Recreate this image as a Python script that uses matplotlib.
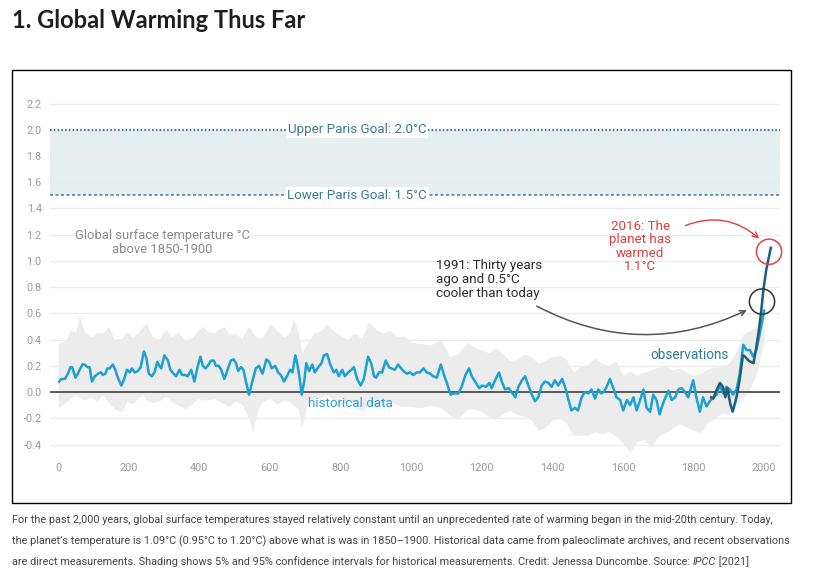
import numpy as np
import matplotlib
matplotlib.use("Agg")
import matplotlib.pyplot as plt
import matplotlib.patches as patches

# reconstruction (paleoclimate)
hist_years = [3, 9, 19, 28, 35, 40, 49, 56, 61, 69, 75, 83, 89, 96, 104, 113, 121, 127, 134, 139,
              146, 155, 162, 169, 179, 186, 195, 203, 209, 217, 226, 234, 243, 250, 257, 265, 273, 281, 287, 292,
              301, 311, 318, 327, 334, 344, 351, 360, 367, 377, 386, 395, 403, 410, 417, 424, 433, 441, 447, 455,
              462, 471, 480, 489, 497, 504, 510, 518, 525, 532, 541, 551, 560, 569, 579, 590, 598, 605, 615, 623,
              631, 640, 650, 657, 664, 672, 678, 685, 690, 697, 703, 711, 720, 727, 737, 746, 753, 762, 771, 781,
              788, 795, 805, 812, 822, 831, 838, 847, 857, 866, 878, 887, 895, 901, 909, 918, 928, 937, 944, 954,
              963, 978, 988, 997, 1006, 1016, 1025, 1035, 1044, 1054, 1063, 1073, 1084, 1092, 1101, 1112, 1121, 1134, 1143, 1154,
              1164, 1172, 1181, 1193, 1202, 1212, 1222, 1228, 1238, 1249, 1257, 1266, 1276, 1285, 1295, 1304, 1314, 1323, 1332, 1342,
              1351, 1360, 1370, 1379, 1389, 1398, 1407, 1417, 1428, 1437, 1445, 1454, 1464, 1473, 1483, 1492, 1502, 1511, 1521, 1530,
              1538, 1546, 1554, 1563, 1573, 1582, 1592, 1601, 1611, 1620, 1630, 1639, 1649, 1658, 1667, 1677, 1686, 1695, 1704, 1712,
              1719, 1729, 1738, 1748, 1757, 1766, 1776, 1785, 1799, 1808, 1818, 1827, 1837, 1846, 1856, 1865, 1874, 1884, 1893, 1903,
              1912, 1922, 1931, 1941, 1950, 1960, 1969, 1978, 1988, 2000]
hist_vals = [.08, .10, .10, .14, .19, .19, .11, .14, .17, .21, .21, .19, .19, .08, .12, .14, .15, .13, .14, .18,
             .18, .21, .17, .11, .05, .09, .17, .15, .18, .15, .16, .19, .31, .26, .14, .12, .15, .23, .20, .18,
             .28, .24, .17, .14, .12, .17, .13, .13, .12, .17, .08, .19, .27, .20, .18, .20, .24, .24, .20, .20,
             .17, .10, .17, .24, .25, .22, .16, .19, .17, .08, -.02, .09, .18, .20, .14, .25, .23, .18, .20, .15,
             .13, .08, .13, .17, .15, .28, .21, .09, -.02, .08, .22, .16, .21, .15, .19, .22, .28, .29, .21, .15,
             .17, .12, .17, .12, .15, .17, .19, .10, .05, .10, .27, .22, .12, .11, .15, .15, .24, .19, .18, .17,
             .21, .16, .14, .15, .13, .15, .15, .18, .15, .14, .12, .11, .21, .14, .07, -.02, -.01, -.01, .04, .13,
             .18, .12, .08, .03, .05, .04, .07, .03, .09, .15, .08, .02, .03, .00, -.04, .04, .09, .12, .05, -.02,
             -.07, -.04, .05, .08, .07, .04, .09, .05, .10, .03, -.05, -.14, -.12, -.14, -.04, .00, -.01, .02, -.05, .02,
             -.01, .00, .04, .10, .03, -.04, -.06, -.14, -.06, -.10, -.04, -.14, -.06, .02, -.12, -.15, -.02, -.06, -.17, -.10,
             -.05, .01, -.06, -.04, .02, .03, .00, -.04, .09, -.04, -.15, -.04, -.11, -.07, -.04, -.02, .05, -.01, .04, .02,
             -.02, .02, .14, .36, .32, .32, .27, .32, .45, .62]

# 5% / 95% shading
band_years = [0, 20, 35, 50, 60, 75, 95, 110, 125, 143, 160, 180, 195, 210, 225, 240, 250, 265, 285, 305,
              320, 340, 360, 380, 395, 410, 425, 440, 455, 470, 485, 500, 520, 540, 550, 565, 580, 600, 620, 640,
              655, 667, 680, 690, 705, 725, 745, 760, 780, 800, 820, 840, 860, 880, 900, 920, 940, 960, 980, 1000,
              1030, 1055, 1085, 1110, 1130, 1160, 1180, 1200, 1220, 1240, 1260, 1280, 1300, 1320, 1340, 1360, 1380, 1400, 1420, 1440,
              1460, 1480, 1500, 1520, 1540, 1560, 1580, 1600, 1620, 1640, 1660, 1680, 1700, 1720, 1740, 1760, 1780, 1800, 1820, 1840,
              1860, 1880, 1900, 1920, 1940, 1960, 1980, 2000]
band_hi = [.37, .39, .47, .46, .58, .46, .42, .46, .45, .50, .40, .41, .46, .42, .45, .50, .53, .43, .40, .48,
           .42, .46, .39, .42, .47, .50, .46, .45, .48, .50, .44, .45, .41, .50, .46, .41, .42, .52, .47, .42,
           .45, .56, .46, .30, .37, .45, .47, .52, .47, .43, .40, .45, .41, .54, .48, .45, .47, .42, .43, .38,
           .37, .36, .40, .27, .29, .38, .34, .32, .30, .34, .29, .24, .25, .29, .27, .22, .24, .27, .28, .25,
           .15, .20, .21, .26, .22, .20, .24, .13, .16, .13, .15, .17, .19, .20, .17, .18, .15, .13, .14, .18,
           .19, .20, .22, .30, .44, .47, .50, .72]
band_lo = [-.12, -.08, -.05, -.02, -.04, -.06, -.04, -.07, -.02, -.08, -.13, -.15, -.07, -.09, -.05, -.02, -.06, -.08, -.07, -.03,
           -.07, -.10, -.13, -.09, -.05, -.06, -.06, -.05, -.07, -.09, -.11, -.07, -.09, -.20, -.31, -.14, -.07, -.05, -.09, -.06,
           -.07, -.10, -.13, -.27, -.10, -.05, -.04, -.02, -.06, -.10, -.06, -.11, -.15, -.09, -.11, -.09, -.07, -.10, -.11, -.11,
           -.12, -.10, -.12, -.18, -.21, -.13, -.13, -.15, -.19, -.21, -.16, -.14, -.17, -.19, -.21, -.29, -.27, -.21, -.20, -.24,
           -.33, -.33, -.33, -.30, -.32, -.30, -.34, -.39, -.46, -.38, -.36, -.42, -.34, -.31, -.28, -.24, -.27, -.29, -.31, -.24,
           -.20, -.16, -.17, -.10, -.04, .02, .15, .40]

# direct measurements
obs_years = [1850, 1856, 1866, 1875, 1883, 1890, 1896, 1904, 1911, 1918, 1924, 1932, 1940, 1946, 1956, 1962,
             1970, 1976, 1984, 1991, 1998, 2006, 2012, 2019]
obs_vals = [-.04, -.05, .02, .07, .04, -.04, .03, -.09, -.15, -.08, -.01, .12, .28, .27, .24, .23,
            .22, .31, .45, .60, .78, .93, 1.01, 1.10]

paris_low, paris_high = 1.5, 2.0
yticks = [-0.4, -0.2, 0.0, 0.2, 0.4, 0.6, 0.8, 1.0, 1.2, 1.4, 1.6, 1.8, 2.0, 2.2]
xticks = [0, 200, 400, 600, 800, 1000, 1200, 1400, 1600, 1800, 2000]
circle_1991 = (1994, 0.69)
circle_2016 = (2014, 1.07)

caption = ["For the past 2,000 years, global surface temperatures stayed relatively constant until an unprecedented rate of warming began in the mid-20th century. Today,",
           "the planet\u2019s temperature is 1.09\u00b0C (0.95\u00b0C to 1.20\u00b0C) above what is was in 1850\u20131900. Historical data came from paleoclimate archives, and recent observations",
           "are direct measurements. Shading shows 5% and 95% confidence intervals for historical measurements. Credit: Jenessa Duncombe. Source: "]

plt.rcParams['font.family'] = ['Roboto', 'DejaVu Sans']

W, H = 819, 579
fig = plt.figure(figsize=(W / 100, H / 100), dpi=100)
fig.patch.set_facecolor('white')

fig.text(12 / W, 1 - 21 / H, "1. Global Warming Thus Far", fontsize=17, fontweight='bold',
         family=['Lato', 'DejaVu Sans'], color='#1e1e1e', va='center', ha='left')

fig.add_artist(patches.Rectangle((12 / W, 1 - 503 / H), 779 / W, 433 / H, transform=fig.transFigure,
                                 fill=False, ec='black', lw=1))

ax = fig.add_axes([50 / W, 1 - 455 / H, 730 / W, 358 / H])
ax.set_xlim(-23, 2045)
ax.set_ylim(-0.48, 2.25)
for s in ax.spines.values():
    s.set_visible(False)
ax.tick_params(length=0, labelsize=7.8, labelcolor='#9a9a9a')
ax.tick_params(axis='y', pad=6)
ax.tick_params(axis='x', pad=6)
ax.set_yticks(yticks)
ax.set_yticklabels([f"{v:.1f}" if v >= 0 else f"-{abs(v):.1f}" for v in yticks])
ax.set_xticks(xticks)
ax.grid(axis='y', color='#ebebeb', lw=0.9)
ax.set_axisbelow(True)

ax.axhspan(paris_low, paris_high, color='#e6eef0', lw=0, zorder=0.5)
ax.axhline(paris_high, color='#3b7f97', lw=1.6, ls=(0, (0.7, 1.0)), zorder=2)
ax.axhline(paris_low, color='#3b7f97', lw=1.1, ls=(0, (2.0, 1.6)), zorder=2)
for yv, lab in [(paris_high, "Upper Paris Goal: 2.0\u00b0C"), (paris_low, "Lower Paris Goal: 1.5\u00b0C")]:
    ax.text(847, yv, lab, ha='center', va='center', fontsize=9.6, color='#3a7b93', zorder=3,
            bbox=dict(fc='white', ec='none', pad=1.2))

ax.fill_between(band_years, band_lo, band_hi, color='#ececec', lw=0, zorder=1)
ax.axhline(0, color='#333333', lw=1.1, zorder=2)
ax.plot(hist_years, hist_vals, color='#1ba1d1', lw=1.8, zorder=3, solid_joinstyle='round')
ax.plot(obs_years, obs_vals, color='#1d5f79', lw=1.8, zorder=4, solid_joinstyle='round')

ax.text(295, 1.14, "Global surface temperature \u00b0C\nabove 1850-1900", ha='center', va='center',
        fontsize=9.4, color='#8a8a8a', linespacing=1.15, zorder=3,
        bbox=dict(fc='white', ec='none', pad=0.5))
ax.text(708, -0.085, "historical data", ha='left', va='center', fontsize=9.6, color='#27a3d2', zorder=5)
ax.text(1677, 0.28, "observations", ha='left', va='center', fontsize=9.8, color='#2e7b97', zorder=5)

ax.text(1071, 0.86, "1991: Thirty years\nago and 0.5\u00b0C\ncooler than today", ha='left', va='center',
        fontsize=9.6, color='#2b2b2b', linespacing=1.1, zorder=5)
ax.annotate("", xy=(1951, 0.625), xytext=(1356, 0.655),
            arrowprops=dict(arrowstyle='->', color='#555555', lw=1.1,
                            connectionstyle='arc3,rad=0.25', shrinkA=0, shrinkB=0), zorder=5)
ax.text(1649, 1.11, "2016: The\nplanet has\nwarmed\n1.1\u00b0C", ha='center', va='center',
        fontsize=9.6, color='#df3d3d', linespacing=1.05, zorder=5)
ax.annotate("", xy=(1986, 1.17), xytext=(1777, 1.27),
            arrowprops=dict(arrowstyle='->', color='#df3d3d', lw=1.0,
                            connectionstyle='arc3,rad=-0.3', shrinkA=0, shrinkB=0), zorder=5)
ax.scatter(*circle_1991, s=330, facecolor='none', edgecolor='#333333', lw=1.1, zorder=6, clip_on=False)
ax.scatter(*circle_2016, s=330, facecolor='none', edgecolor='#e04545', lw=1.1, zorder=6, clip_on=False)

cap_font = ['Roboto', 'DejaVu Sans']
cap_size = 7.85
for i, line in enumerate(caption):
    t = fig.text(12 / W, 1 - (520 + 21 * i) / H, line, fontsize=cap_size, color='#444444',
                 family=cap_font, ha='left', va='center')
t2 = ax.annotate("IPCC", xy=(1, 0), xycoords=t, va='bottom', ha='left', fontsize=cap_size, color='#444444',
                 family=cap_font, style='italic', annotation_clip=False)
ax.annotate(" [2021]", xy=(1, 0), xycoords=t2, va='bottom', ha='left', fontsize=cap_size, color='#444444',
            family=cap_font, annotation_clip=False)

fig.savefig("out.png", dpi=100)
